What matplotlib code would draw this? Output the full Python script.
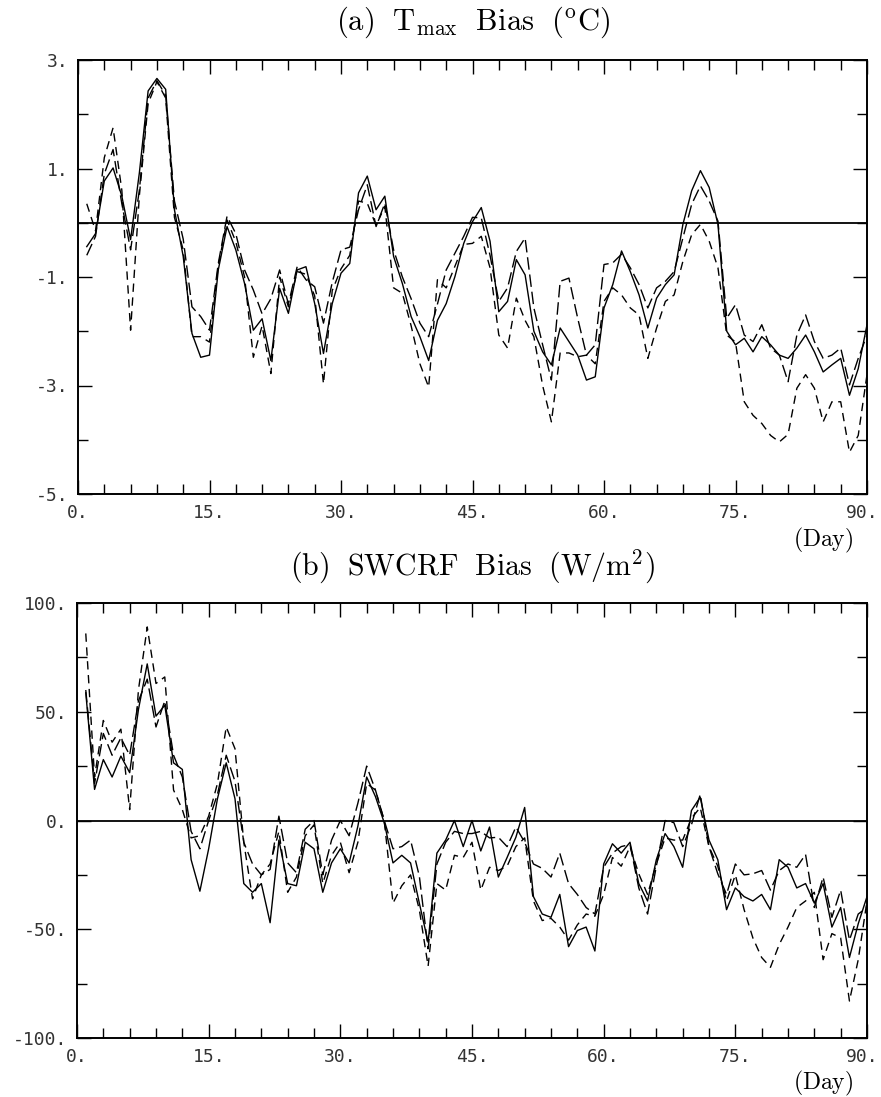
import matplotlib
matplotlib.use("Agg")
import matplotlib.pyplot as plt
import matplotlib.transforms as mtransforms
import numpy as np

plt.rcParams['mathtext.fontset'] = 'cm'

days = list(range(1, 91))

# Panel (a): Tmax bias (deg C)
a_solid = [-0.44, -0.2, 0.77, 1.01, 0.49, -0.31, 0.92, 2.43, 2.66, 2.46,
           0.24, -0.62, -2.04, -2.48, -2.44, -0.87, -0.07, -0.5, -1.12, -1.98,
           -1.77, -2.54, -1.21, -1.67, -0.87, -0.81, -1.49, -2.41, -1.49, -0.93,
           -0.75, 0.55, 0.86, 0.24, 0.49, -0.62, -1.12, -1.73, -2.1, -2.54,
           -1.8, -1.49, -0.99, -0.38, 0.02, 0.28, -0.34, -1.64, -1.45, -0.68,
           -0.96, -2.0, -2.38, -2.62, -1.94, -2.19, -2.44, -2.9, -2.84, -1.57,
           -1.14, -0.52, -0.9, -1.33, -1.94, -1.39, -1.14, -0.96, -0.03, 0.59,
           0.96, 0.65, -0.03, -2.0, -2.25, -2.13, -2.38, -2.1, -2.25, -2.44,
           -2.5, -2.31, -2.07, -2.38, -2.75, -2.62, -2.5, -3.18, -2.69, -1.88]
a_dash1 = [-0.6, -0.25, 0.9, 1.35, 0.35, -0.5, 0.6, 2.3, 2.62, 2.35,
           0.4, -0.3, -1.55, -1.73, -1.98, -0.75, 0.12, -0.2, -0.87, -1.24,
           -1.68, -1.4, -0.87, -1.5, -0.81, -1.05, -1.18, -1.85, -1.1, -0.5,
           -0.45, 0.24, 0.7, -0.07, 0.36, -0.5, -1.0, -1.4, -1.85, -2.1,
           -1.5, -0.87, -0.56, -0.25, 0.1, 0.09, -0.6, -1.45, -1.2, -0.53,
           -0.28, -1.57, -2.25, -2.9, -1.08, -1.02, -1.76, -2.44, -2.25, -0.77,
           -0.74, -0.58, -0.83, -1.14, -1.57, -1.2, -1.08, -0.9, -0.28, 0.34,
           0.68, 0.4, 0.03, -1.76, -1.51, -2.07, -2.19, -1.88, -2.31, -2.44,
           -2.93, -2.07, -1.7, -2.19, -2.5, -2.44, -2.31, -2.99, -2.5, -2.07]
a_dash2 = [0.35, -0.15, 1.2, 1.75, 0.6, -1.98, 0.5, 2.2, 2.6, 2.3,
           0.1, -0.5, -2.1, -2.1, -2.2, -0.8, 0.05, -0.35, -1.0, -2.48,
           -1.9, -2.78, -1.0, -1.55, -0.9, -0.95, -1.35, -2.97, -1.25, -0.85,
           -0.6, 0.4, 0.36, -0.05, 0.3, -1.2, -1.3, -1.9, -2.6, -3.03,
           -1.05, -1.2, -0.8, -0.4, -0.38, -0.25, -0.83, -2.07, -2.31, -1.39,
           -1.8, -2.1, -3.0, -3.67, -2.4, -2.4, -2.47, -2.44, -2.6, -1.45,
           -1.2, -1.33, -1.57, -1.7, -2.5, -1.94, -1.45, -1.33, -0.71, -0.22,
           -0.03, -0.34, -0.83, -2.07, -2.2, -3.3, -3.55, -3.7, -3.92, -4.04,
           -3.9, -3.05, -2.8, -3.05, -3.67, -3.3, -3.3, -4.23, -3.92, -2.8]

# Panel (b): SWCRF bias (W/m2)
b_solid = [58.7, 14.3, 28, 20, 29.6, 22, 51, 72, 48, 53,
           26.5, 23.5, -18, -32.5, -13, 10, 26.5, 10, -29, -33,
           -29, -47, -9, -29, -30, -10, -13, -33, -19.5, -13,
           -19.5, -2.6, 20, 11, -1, -19.5, -16, -19.5, -38, -56,
           -15, -9, 0, -12, 0, -14, -3, -26, -17, -7.7,
           6, -35, -43, -44.5, -34, -58, -50.6, -49, -60, -20,
           -10.7, -15, -10, -29, -37, -18, -6, -12, -21.5, 4.6,
           10.7, -9, -18, -41, -31, -35, -37, -34, -41, -18,
           -21.5, -31, -29, -38, -29, -49, -40, -63, -47.5, -35]
b_dash1 = [60, 17, 40, 30, 38, 30, 55, 65, 43, 55,
           30, 20, -5, -13, 0, 12, 30, 18, -10, -20,
           -25, -22.5, 2, -19.5, -24, -4, 0, -25, -9, 0,
           -7, 8, 25, 14, 0, -13, -12, -9, -25.6, -59,
           -20, -10, -5, -6, -6, -5, -8, -7.7, -12, -3,
           -10, -20, -22, -26, -15, -29, -34, -40, -43, -21.5,
           -15, -12, -11, -31, -43, -21, 0, -1, -12, -2,
           12, -12, -24.5, -34, -20, -25, -24.5, -23, -32, -23,
           -20, -21.5, -15.6, -40, -26, -44.5, -32, -55, -43, -40]
b_dash2 = [86, 20, 46, 36, 42, 5, 60, 89, 63, 66,
           14, 5, -8, -7, 2, 17, 43, 33, -10, -36,
           -25, -20, -5, -33, -26, -7, -2, -29, -16, -10,
           -24, -10, 17, 14, 0, -38, -30, -25, -41, -67,
           -29, -32, -16, -17, -10, -32, -21.5, -23, -21, -12,
           -8, -37, -46, -45, -49, -55, -48, -43, -44, -34,
           -17, -21, -12, -24.5, -34, -20, -8, -9, -9, 1,
           6, -12, -21, -37, -25, -41, -54, -63, -67.5, -57,
           -49, -40, -37, -33, -64, -52, -54, -83, -64, -37]

x_ticks = [0, 15, 30, 45, 60, 75, 90]
x_labels = ["0.", "15.", "30.", "45.", "60.", "75.", "90."]
a_yticks = [3, 1, -1, -3, -5]
a_ylabels = ["3.", "1.", "-1.", "-3.", "-5."]
b_yticks = [100, 50, 0, -50, -100]
b_ylabels = ["100.", "50.", "0.", "-50.", "-100."]

W, H = 881, 1097
fig = plt.figure(figsize=(W / 100, H / 100), dpi=100)

mono = 'DejaVu Sans Mono'


def make_panel(rect, solid, d1, d2, yticks, ylabels, yminor, title, title_size, title_y, day_y):
    ax = fig.add_axes(rect)
    ax.plot(days, solid, color='black', lw=1.0, ls='-')
    ax.plot(days, d1, color='black', lw=1.0, dashes=(9, 3.5))
    ax.plot(days, d2, color='black', lw=1.0, dashes=(6, 4))
    ax.axhline(0, color='black', lw=1.3)
    ax.set_xlim(0, 90)
    ax.set_ylim(yticks[-1], yticks[0])
    ax.set_xticks(x_ticks)
    ax.set_xticklabels(x_labels, fontfamily=mono, fontsize=13, color='#333333')
    ax.set_xticks(np.arange(0, 91, 3), minor=True)
    ax.set_yticks(yticks)
    ax.set_yticklabels(ylabels, fontfamily=mono, fontsize=13, color='#333333')
    ax.set_yticks(yminor, minor=True)
    ax.tick_params(which='both', direction='in', top=True, right=True, color='black', width=1.0)
    ax.tick_params(which='major', length=10, pad=7)
    ax.tick_params(which='minor', length=7)
    for s in ax.spines.values():
        s.set_linewidth(1.4)
    # keep the last x label inside the figure
    last = ax.get_xticklabels()[-1]
    last.set_transform(last.get_transform() +
                       mtransforms.ScaledTranslation(-5 / 100, 0, fig.dpi_scale_trans))
    fig.text(0.5365, title_y, title, ha='center', va='center', fontsize=title_size)
    fig.text(0.968, day_y, r'$\mathrm{(Day)}$', ha='right', va='center', fontsize=17)
    return ax


make_panel([78 / W, 1 - 494 / H, 789 / W, 434 / H], a_solid, a_dash1, a_dash2,
           a_yticks, a_ylabels, [2, 0, -2, -4],
           r'$\mathrm{(a)\ \ T_{max}\ \ Bias\ \ (^oC)}$', 22, 1 - 22 / H, 1 - 540 / H)
make_panel([77 / W, 1 - 1038 / H, 790 / W, 435 / H], b_solid, b_dash1, b_dash2,
           b_yticks, b_ylabels, [75, 25, -25, -75],
           r'$\mathrm{(b)\ \ SWCRF\ \ Bias\ \ (W/m^2)}$', 21.5, 1 - 567 / H, 1 - 1083 / H)

fig.savefig('out.png', dpi=100, facecolor='white')
